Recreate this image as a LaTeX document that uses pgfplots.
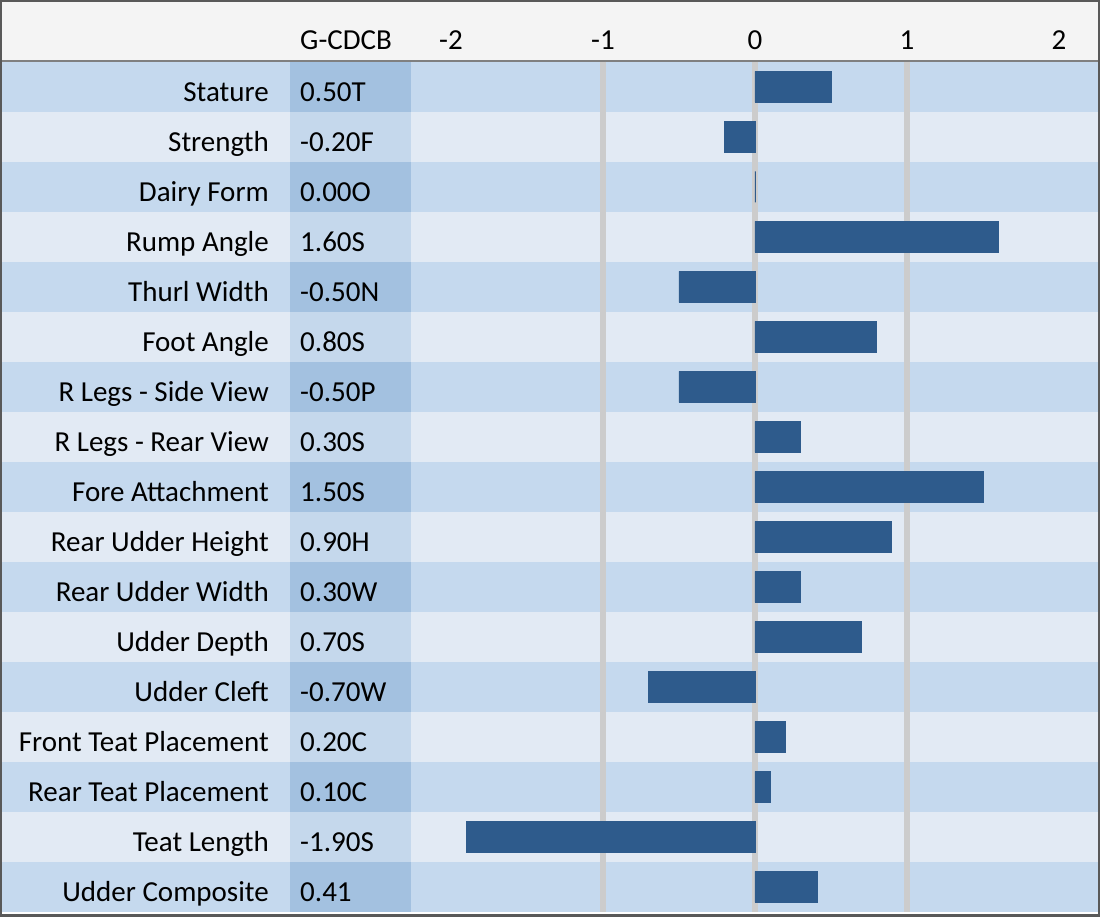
\documentclass[border=0pt]{standalone}
\usepackage{pgfplots}
\pgfplotsset{compat=1.18}
\usepackage{pgfplotstable}
\usepackage{fontspec}
\setmainfont{Carlito}
\definecolor{barc}{RGB}{46,91,140}
\definecolor{rowdark}{RGB}{197,217,238}
\definecolor{rowlight}{RGB}{226,234,244}
\definecolor{coldark}{RGB}{163,193,224}
\definecolor{collight}{RGB}{197,216,236}
\definecolor{hdr}{RGB}{244,244,244}
\definecolor{gridc}{RGB}{204,204,204}
\definecolor{bordc}{RGB}{89,89,89}
\newcommand{\lblfont}{\fontsize{29bp}{34bp}\selectfont}

\pgfplotstableread[col sep=comma]{
idx,name,code,val
0,Stature,0.50T,0.50
1,Strength,-0.20F,-0.20
2,Dairy Form,0.00O,0.00
3,Rump Angle,1.60S,1.60
4,Thurl Width,-0.50N,-0.50
5,Foot Angle,0.80S,0.80
6,R Legs - Side View,-0.50P,-0.50
7,R Legs - Rear View,0.30S,0.30
8,Fore Attachment,1.50S,1.50
9,Rear Udder Height,0.90H,0.90
10,Rear Udder Width,0.30W,0.30
11,Udder Depth,0.70S,0.70
12,Udder Cleft,-0.70W,-0.70
13,Front Teat Placement,0.20C,0.20
14,Rear Teat Placement,0.10C,0.10
15,Teat Length,-1.90S,-1.90
16,Udder Composite,0.41,0.41
}\data

\begin{document}
\begin{tikzpicture}[font=\lblfont]
\begin{axis}[
  width=1100bp, height=917bp, scale only axis,
  at={(0,0)}, anchor=south west,
  xmin=-4.967, xmax=2.270,
  ymin=-1.74, ymax=16.6, y dir=reverse,
  clip=false,
  axis on top=true,
  axis line style={draw=none},
  major tick length=0pt,
  tick style={draw=none},
  xtick={-2,-1,0,1,2},
  xticklabels={-2,-1,0,1,2},
  xticklabel pos=upper,
  xticklabel style={anchor=base, yshift=-50bp, inner sep=0pt},
  ytick={0,...,16},
  yticklabels from table={\data}{name},
  yticklabel style={anchor=base east, xshift=269bp, yshift=-14.5bp, inner sep=0pt},
  tick label style={font=\lblfont},
  /pgf/number format/assume math mode=true,
]
% row backgrounds
\pgfplotsinvokeforeach{0,2,...,16}{
  \fill[rowdark] (axis cs:-4.967,{#1-0.5}) rectangle (axis cs:2.27,{#1+0.5});
  \fill[coldark] (axis cs:-3.059,{#1-0.5}) rectangle (axis cs:-2.263,{#1+0.5});
}
\pgfplotsinvokeforeach{1,3,...,15}{
  \fill[rowlight] (axis cs:-4.967,{#1-0.5}) rectangle (axis cs:2.27,{#1+0.5});
  \fill[collight] (axis cs:-3.059,{#1-0.5}) rectangle (axis cs:-2.263,{#1+0.5});
}
% header
\fill[hdr] (axis cs:-4.967,-1.74) rectangle (axis cs:2.27,-0.5);
\draw[gray, line width=1.5bp] (axis cs:-4.967,-0.52) -- (axis cs:2.27,-0.52);
% grid lines
\pgfplotsinvokeforeach{-1,0,1}{
  \draw[gridc, line width=6bp] (axis cs:#1,-0.5) -- (axis cs:#1,16.5);
}
% bars
\addplot[xbar, bar width=0.62, bar shift=0pt, fill=barc, draw=barc, line width=0.8bp]
  table[x=val, y=idx] {\data};
% G-CDCB values
\addplot[draw=none, mark=none, nodes near coords, point meta=explicit symbolic,
  nodes near coords style={anchor=base west, inner sep=0pt, yshift=-14.5bp, font=\lblfont, text=black}]
  table[x expr=-2.993, y=idx, meta=code] {\data};
\node[anchor=base west, inner sep=0pt] at (axis cs:-2.993,-0.74) {G-CDCB};
% outer border
\draw[bordc, line width=5bp] (axis cs:-4.967,-1.74) rectangle (axis cs:2.27,16.6);
\end{axis}
\pgfresetboundingbox
\useasboundingbox (current axis.south west) rectangle (current axis.north east);
\end{tikzpicture}
\end{document}
